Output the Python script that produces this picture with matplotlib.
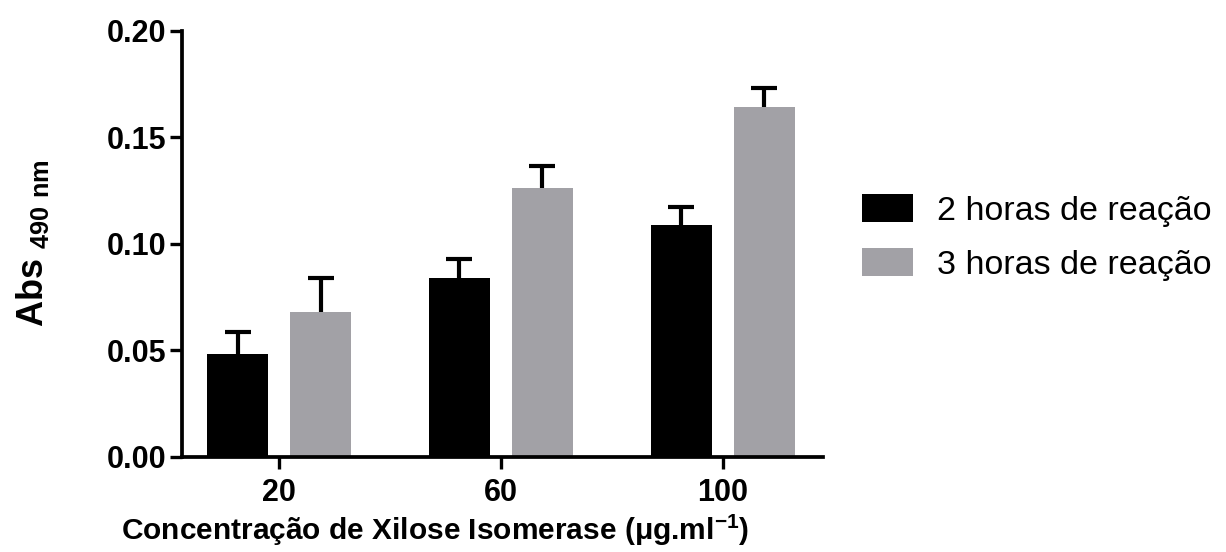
import numpy as np
import matplotlib
matplotlib.use("Agg")
import matplotlib.pyplot as plt

# data
concentracoes = ["20", "60", "100"]
abs_2h = [0.048, 0.084, 0.109]
err_2h = [0.0106, 0.0088, 0.0083]
abs_3h = [0.068, 0.126, 0.164]
err_3h = [0.0161, 0.0106, 0.0090]
series_labels = ["2 horas de reação", "3 horas de reação"]
yticks = [0.00, 0.05, 0.10, 0.15, 0.20]

plt.rcParams['font.family'] = ['Liberation Sans', 'DejaVu Sans']
plt.rcParams['mathtext.fontset'] = 'custom'
plt.rcParams['mathtext.rm'] = 'Liberation Sans'
plt.rcParams['mathtext.bf'] = 'Liberation Sans:bold'

fig = plt.figure(figsize=(12.26, 5.52), dpi=100)
ax = fig.add_axes([0.1487, 0.1726, 0.5226, 0.7718])

x = np.arange(len(concentracoes))
w = 0.275
off = 0.187
ekw = dict(fmt='none', elinewidth=3, capthick=3, capsize=9.7, ecolor='black', zorder=2)

# error bars sit behind the bars so only the upper half shows
ax.errorbar(x - off, abs_2h, yerr=err_2h, **ekw)
ax.errorbar(x + off, abs_3h, yerr=err_3h, **ekw)
ax.bar(x - off, abs_2h, w, color='black', label=series_labels[0], zorder=3)
ax.bar(x + off, abs_3h, w, color='#a2a1a6', label=series_labels[1], zorder=3)

ax.set_xlim(-0.436, 2.452)
ax.set_ylim(0, 0.2)
ax.set_yticks(yticks)
ax.set_yticklabels(["%.2f" % v for v in yticks])
ax.set_xticks(x)
ax.set_xticklabels(concentracoes)

for s in ['top', 'right']:
    ax.spines[s].set_visible(False)
for s in ['left', 'bottom']:
    ax.spines[s].set_linewidth(2.7)
    ax.spines[s].set_zorder(4)

ax.tick_params(axis='both', length=8.6, width=2.4, labelsize=22)
ax.tick_params(axis='y', pad=3)
ax.tick_params(axis='x', pad=7)
for lab in ax.get_xticklabels() + ax.get_yticklabels():
    lab.set_fontweight('bold')

ax.set_xlabel(r"Concentração de Xilose Isomerase (μg.ml$^{\mathbf{-1}}$)",
              fontsize=21.5, fontweight='bold')
ax.xaxis.set_label_coords(0.394, -0.13)
ax.set_ylabel(r"Abs $_{\mathbf{490\ nm}}$", fontsize=26, fontweight='bold')
ax.yaxis.set_label_coords(-0.205, 0.5)

fig.legend(loc='center left', bbox_to_anchor=(0.7031, 0.5697), frameon=False,
           fontsize=24.5, handlelength=1.5, handleheight=0.88, handletextpad=0.7,
           labelspacing=0.62, borderpad=0, borderaxespad=0)

fig.savefig("out.png", dpi=100)
